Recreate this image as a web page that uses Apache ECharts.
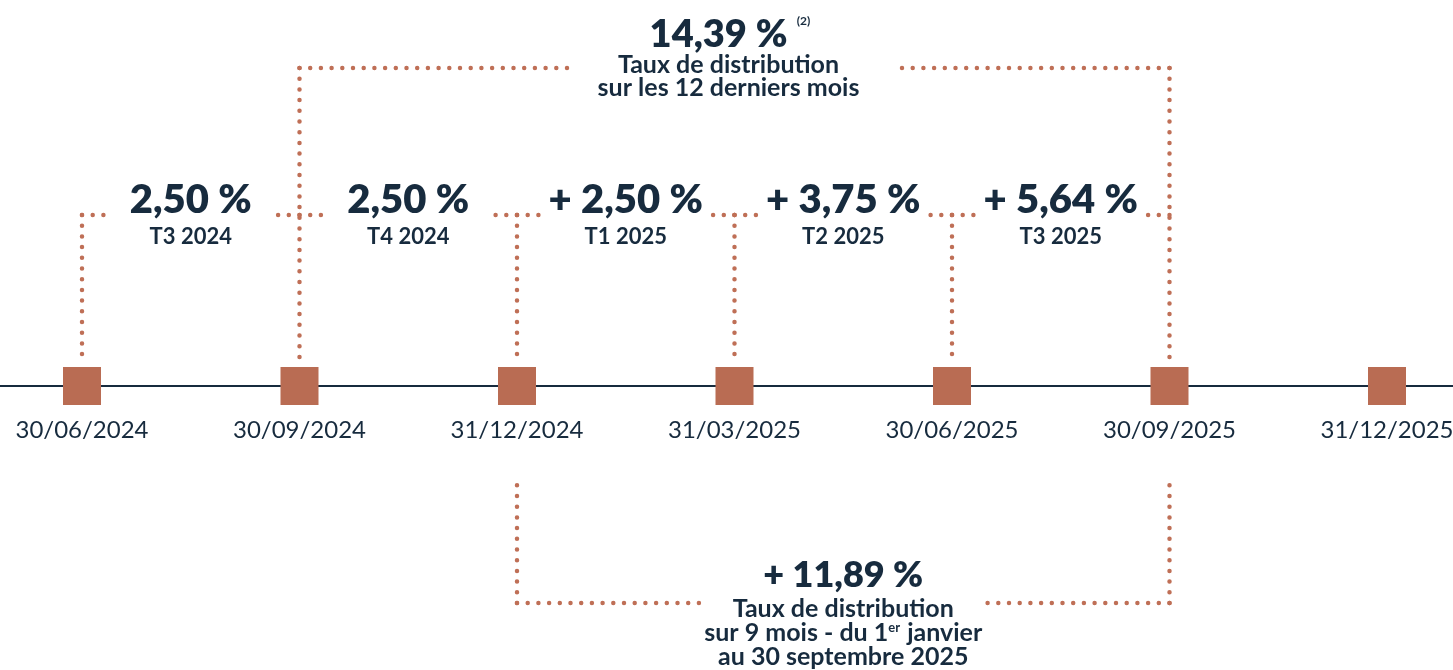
<!DOCTYPE html>
<html>
<head>
<meta charset="utf-8">
<script src="https://cdn.jsdelivr.net/npm/echarts@6/dist/echarts.min.js"></script>
<style>
  html, body { margin: 0; padding: 0; background: #fff; }
  #chart { width: 1453px; height: 670px; }
</style>
</head>
<body>
<div id="chart"></div>
<script>
// dates on the timeline
const dates = ["30/06/2024", "30/09/2024", "31/12/2024", "31/03/2025", "30/06/2025", "30/09/2025", "31/12/2025"];
// quarterly distribution between two dates
const quarters = ["T3 2024", "T4 2024", "T1 2025", "T2 2025", "T3 2025"];
const quarterRates = [2.50, 2.50, 2.50, 3.75, 5.64];
const quarterSigned = [false, false, true, true, true];
// cumulated rates
const rate12m = 14.39;
const rate9m = 11.89;
const period12m = [1, 5];
const period9m = [2, 5];

const NAVY = "#172b3e";
const SQUARE = "#b96c53";
const DOT = "#bf6f56";
const FONT = "Lato";

// layout: one unit on x = 217.5 px
const UNIT = 217.5;
const X_MIN = -82 / UNIT;
const X_MAX = 6 + 66 / UNIT;
const LVL_TOP = 318, LVL_Q = 171, LVL_END = 29, LVL_BOT = -217, LVL_BOT_END = -99;

function fmt(v, signed) {
  return (signed ? "+ " : "") + v.toFixed(2).replace(".", ",") + " %";
}

function dots(points) {
  return {
    type: "line",
    data: points,
    symbol: "none",
    silent: true,
    clip: false,
    z: 2,
    lineStyle: { color: DOT, width: 4.5, type: [0, 10.7], cap: "round" },
  };
}

var series = [];

// vertical drops above each dated square
for (let i = 0; i <= quarters.length; i++) {
  let top = i === period12m[0] || i === period12m[1] ? LVL_TOP : LVL_Q;
  series.push(dots([[i, top], [i, LVL_END]]));
}

// quarter brackets
const qGap = 86 / UNIT;
quarters.forEach(function (q, i) {
  let mid = i + 0.5;
  series.push(dots([[i, LVL_Q], [mid - qGap, LVL_Q]]));
  series.push(dots([[i + 1, LVL_Q], [mid + qGap, LVL_Q]]));
});

// 12 months bracket (top)
var mid12 = (period12m[0] + period12m[1]) / 2;
var gap12 = 166 / UNIT;
series.push(dots([[period12m[0], LVL_TOP], [mid12 - gap12, LVL_TOP]]));
series.push(dots([[period12m[1], LVL_TOP], [mid12 + gap12, LVL_TOP]]));

// 9 months bracket (bottom)
var mid9 = (period9m[0] + period9m[1]) / 2;
var gap9 = 134 / UNIT;
series.push(dots([[period9m[0], LVL_BOT], [period9m[0], LVL_BOT_END]]));
series.push(dots([[period9m[1], LVL_BOT], [period9m[1], LVL_BOT_END]]));
series.push(dots([[period9m[0], LVL_BOT], [mid9 - gap9, LVL_BOT]]));
series.push(dots([[period9m[1], LVL_BOT], [mid9 + gap9, LVL_BOT]]));

// squares with their dates
series.push({
  type: "scatter",
  data: dates.map(function (d, i) { return [i, 0]; }),
  symbol: "rect",
  symbolSize: 38,
  silent: true,
  z: 3,
  itemStyle: { color: SQUARE, opacity: 1 },
  label: {
    show: true,
    position: "bottom",
    distance: 13,
    formatter: function (p) { return dates[p.dataIndex]; },
    fontFamily: FONT,
    fontSize: 24,
    color: NAVY,
    opacity: 1,
  },
});

function textPoint(x, y, formatter, rich, offset) {
  return {
    type: "scatter",
    data: [[x, y]],
    symbolSize: 0,
    silent: true,
    z: 4,
    itemStyle: { color: "transparent", opacity: 1 },
    label: {
      show: true,
      position: "inside",
      offset: offset || [0, 0],
      align: "center",
      verticalAlign: "middle",
      opacity: 1,
      formatter: formatter,
      rich: rich,
    },
  };
}

var richCommon = {
  v: { fontFamily: FONT, fontSize: 40, fontWeight: 800, lineHeight: 40, color: NAVY, align: "center" },
  q: { fontFamily: FONT, fontSize: 22, fontWeight: 700, lineHeight: 34, color: NAVY, align: "center" },
  big: { fontFamily: FONT, fontSize: 38, fontWeight: 800, lineHeight: 36, color: NAVY, padding: [0, 20, 0, 0] },
  big2: { fontFamily: FONT, fontSize: 36, fontWeight: 800, lineHeight: 44, color: NAVY },
  sup: { fontFamily: FONT, fontSize: 12, fontWeight: 700, color: NAVY },
  t: { fontFamily: FONT, fontSize: 25, fontWeight: 700, lineHeight: 23, color: NAVY },
  t2: { fontFamily: FONT, fontSize: 25, fontWeight: 700, lineHeight: 24, color: NAVY },
  er: { fontFamily: FONT, fontSize: 13, fontWeight: 700, color: NAVY, verticalAlign: "top", padding: [0, 1, 8, 0] },
};

quarters.forEach(function (q, i) {
  series.push(textPoint(i + 0.5, LVL_Q, "{v|" + fmt(quarterRates[i], quarterSigned[i]) + "}\n{q|" + q + "}", richCommon, [0, 2]));
});

series.push(textPoint(mid12, LVL_TOP,
  "{big|" + fmt(rate12m, false) + "}\n{t|Taux de distribution}\n{t|sur les 12 derniers mois}",
  richCommon, [-6, -10]));
// footnote mark next to the 12 months rate
series.push(textPoint(mid12, LVL_TOP, "{sup|(2)}", richCommon, [69, -47]));

series.push(textPoint(mid9, LVL_BOT,
  "{big2|" + fmt(rate9m, true) + "}\n{t2|Taux de distribution}\n{t2|sur 9 mois - du 1}{er|er}{t2| janvier}\n{t2|au 30 septembre 2025}",
  richCommon, [0, 8]));

var chart = echarts.init(document.getElementById("chart"));
var option = {
  animation: false,
  textStyle: { fontFamily: FONT },
  grid: { left: 0, right: 0, top: 0, bottom: 0, outerBoundsMode: "none", containLabel: false },
  xAxis: {
    type: "value",
    min: X_MIN,
    max: X_MAX,
    axisLine: { show: true, onZero: true, lineStyle: { color: NAVY, width: 2 } },
    axisTick: { show: false },
    splitLine: { show: false },
    axisLabel: { show: false },
  },
  yAxis: {
    type: "value",
    min: -284,
    max: 386,
    show: false,
  },
  series: series,
};
chart.setOption(option);
</script>
</body>
</html>
